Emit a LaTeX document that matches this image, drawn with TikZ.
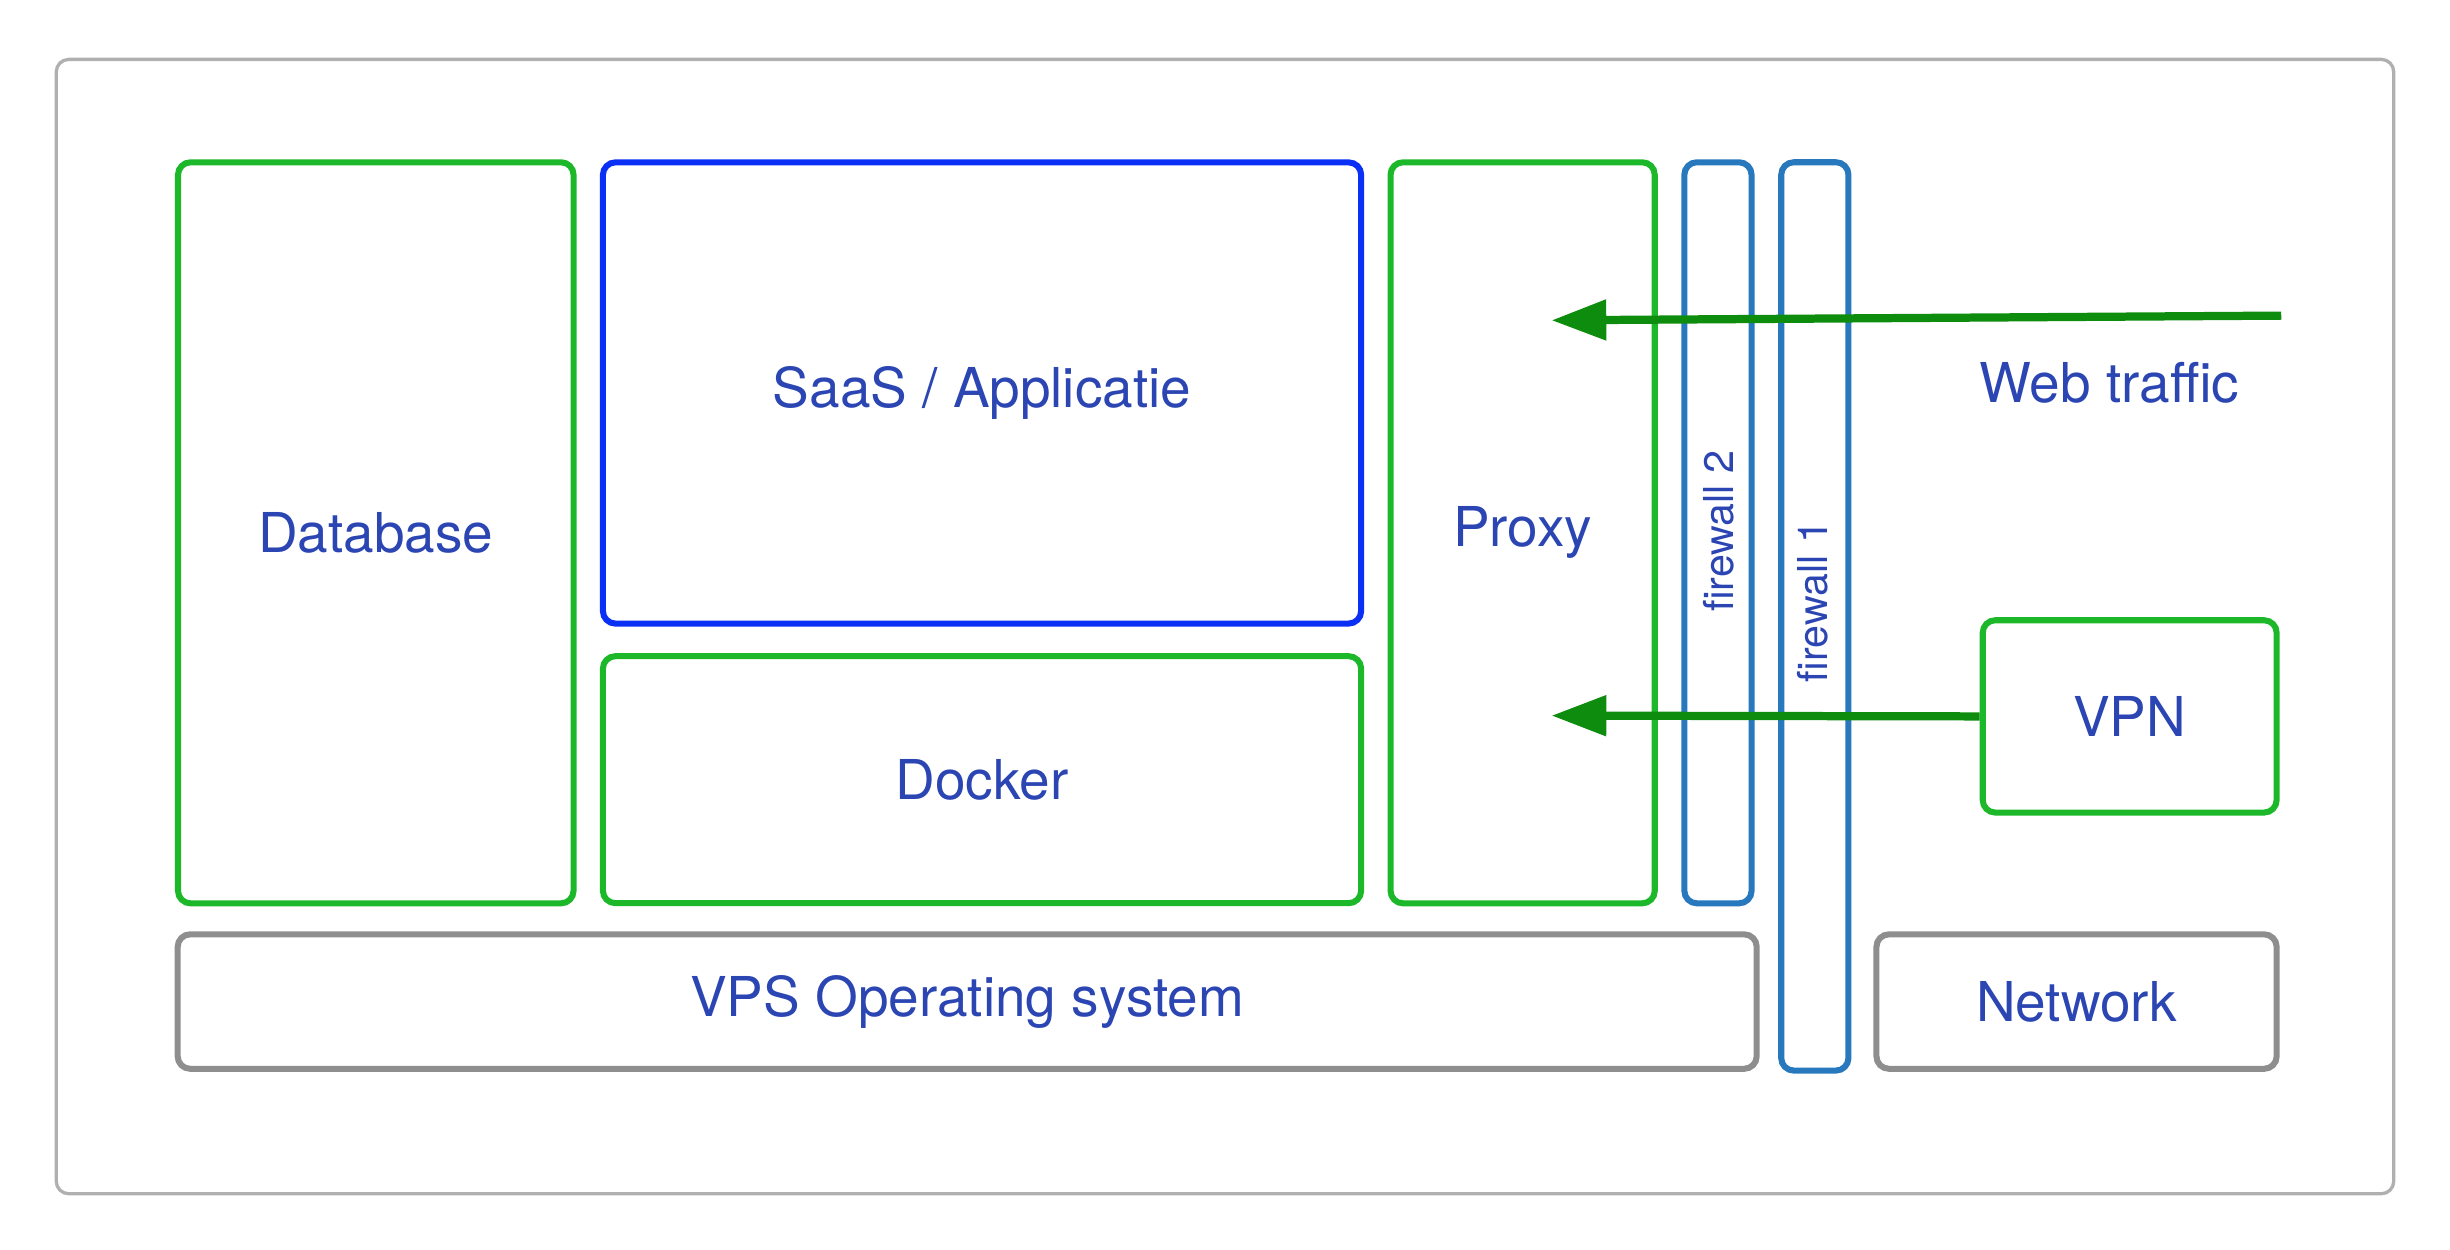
\documentclass[tikz,border=0pt]{standalone}
\usepackage{fontspec}
\setmainfont{TeX Gyre Heros}
\usetikzlibrary{arrows.meta}
\definecolor{txtblue}{HTML}{2B45B3}
\definecolor{boxgreen}{HTML}{1DB82A}
\definecolor{boxblue}{HTML}{0A2FF5}
\definecolor{fwblue}{HTML}{2878BE}
\definecolor{osgray}{HTML}{8E8E8E}
\definecolor{arrgreen}{HTML}{0E8C0E}
\tikzset{
  box/.style={draw=#1, line width=1.1pt, rounded corners=0.08cm, inner sep=0pt,
    text=txtblue, font=\fontsize{10}{12}\selectfont},
  fw/.style={box=fwblue, minimum width=0.43cm, font=\fontsize{7.5}{9}\selectfont},
  flow/.style={draw=arrgreen, line width=1.5pt, -{Triangle[length=0.35cm,width=0.25cm]}}
}
\begin{document}
\begin{tikzpicture}[x=0.01cm,y=-0.01cm]
\useasboundingbox (0,0) rectangle (1568,800);
% frame
\draw[osgray!70, line width=0.6pt, rounded corners=0.08cm] (36,38) rectangle (1532,764);

\node[box=boxgreen, minimum width=2.53cm, minimum height=4.74cm] (db) at (240.5,341) {Database};
\node[box=boxblue, minimum width=4.85cm, minimum height=2.95cm] (app) at (628.5,251.5) {SaaS / Applicatie};
\node[box=boxgreen, minimum width=4.85cm, minimum height=1.58cm] (docker) at (628.5,499) {Docker};
\node[box=boxgreen, minimum width=1.69cm, minimum height=4.74cm] (proxy) at (974.5,341) {Proxy};
\node[fw, minimum height=4.74cm] (fwtwo) at (1099.5,341) {};
\node[fw, minimum height=5.81cm] (fwone) at (1161.5,394.5) {};
\node[rotate=90, text=txtblue, font=\fontsize{7.5}{9}\selectfont] (fwtwolbl) at (1100,340) {firewall 2};
\node[rotate=90, text=txtblue, font=\fontsize{7.5}{9}\selectfont] (fwonelbl) at (1160,385) {firewall 1};
\node[box=boxgreen, minimum width=1.88cm, minimum height=1.23cm] (vpn) at (1363,458.5) {VPN};
\node[box=osgray, minimum width=10.10cm, minimum height=0.86cm] (os) at (619,641) {VPS Operating system};
\node[box=osgray, minimum width=2.56cm, minimum height=0.86cm] (net) at (1329,641) {Network};
\node[text=txtblue, font=\fontsize{10}{12}\selectfont] (web) at (1350,245) {Web traffic};

% traffic
\coordinate (webin) at (1460,202);
\coordinate (webtip) at (993,205);
\coordinate (vpntip) at (993,458);
\draw[flow] (webin) -- (webtip);
\draw[flow] (vpn.west) -- (vpntip);
\end{tikzpicture}
\end{document}
